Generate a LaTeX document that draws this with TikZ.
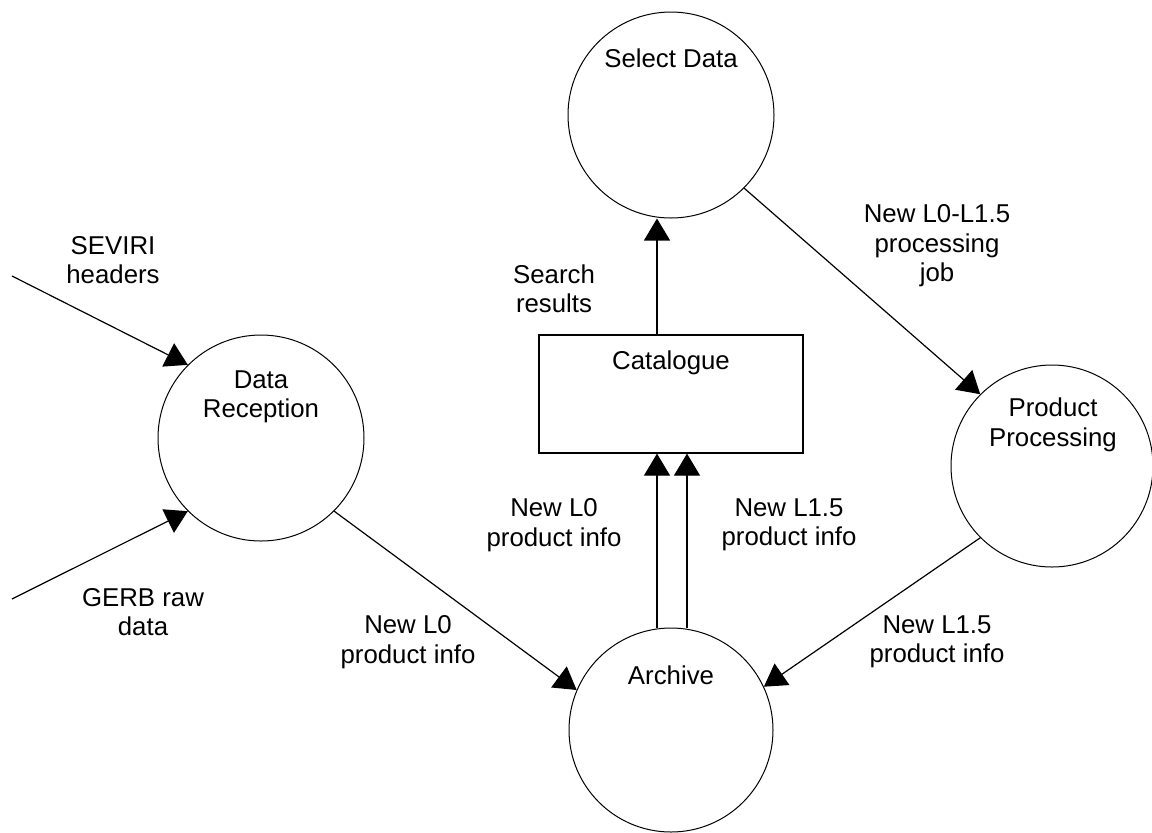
\documentclass[tikz,border=0pt]{standalone}
\usepackage{fontspec}
\setmainfont{Liberation Sans}
\usetikzlibrary{arrows.meta}
\begin{document}
\begin{tikzpicture}[x=0.5pt,y=-0.5pt,
  proc/.style={circle,draw,line width=0.5pt,minimum size=#1,inner sep=0pt},
  store/.style={rectangle,draw,line width=0.6pt,minimum width=132pt,minimum height=59pt,inner sep=0pt},
  txt/.style={align=center,font=\fontsize{12.9pt}{14.7pt}\selectfont,inner sep=0pt},
  arr/.style={line width=0.6pt,-{Triangle[length=11pt,width=13pt]}},
  ln/.style={line width=0.6pt}]
\useasboundingbox (0,0) rectangle (1152,832);
% processes
\node[proc=103pt] (sd) at (671,115) {};
\node[proc=103pt] (dr) at (261,438) {};
\node[proc=102pt] (ar) at (671,730) {};
\node[proc=101pt] (pp) at (1052,466) {};
\node[store] (cat) at (671,394) {};
% texts inside
\node[txt] (sdt) at (671,58) {Select Data};
\node[txt] (drt) at (261,397) {Data\\Reception};
\node[txt] (art) at (671,675) {Archive};
\node[txt] (ppt) at (1053,425) {Product\\Processing};
\node[txt] (catt) at (671,363) {Catalogue};
% free ends
\coordinate (sev) at (12,276);
\coordinate (gerb) at (12,599);
% connectors
\draw[arr] (sev) -- (dr.135);
\draw[arr] (gerb) -- (dr.225);
\draw[arr] (dr.-45) -- (ar.157);
\draw[arr] (sd.-45) -- (pp.135);
\draw[arr] (pp.225) -- (ar.25);
\draw[arr] ([xshift=-7pt]cat.north) -- ([xshift=-7pt]sd.south);
\draw[arr] ([xshift=-7pt]ar.north) -- ([xshift=-7pt]cat.south);
\draw[arr] ([xshift=8pt]ar.north) -- ([xshift=8pt]cat.south);
% labels
\node[txt] (l1) at (113,260) {SEVIRI\\headers};
\node[txt] (l2) at (143,612) {GERB raw\\data};
\node[txt] (l3) at (408,642) {New L0\\product info};
\node[txt] (l4) at (554,289) {Search\\results};
\node[txt] (l5) at (554,525) {New L0\\product info};
\node[txt] (l6) at (789,525) {New L1.5\\product info};
\node[txt] (l7) at (937,246) {New L0-L1.5\\processing\\job};
\node[txt] (l8) at (937,642) {New L1.5\\product info};
\end{tikzpicture}
\end{document}
